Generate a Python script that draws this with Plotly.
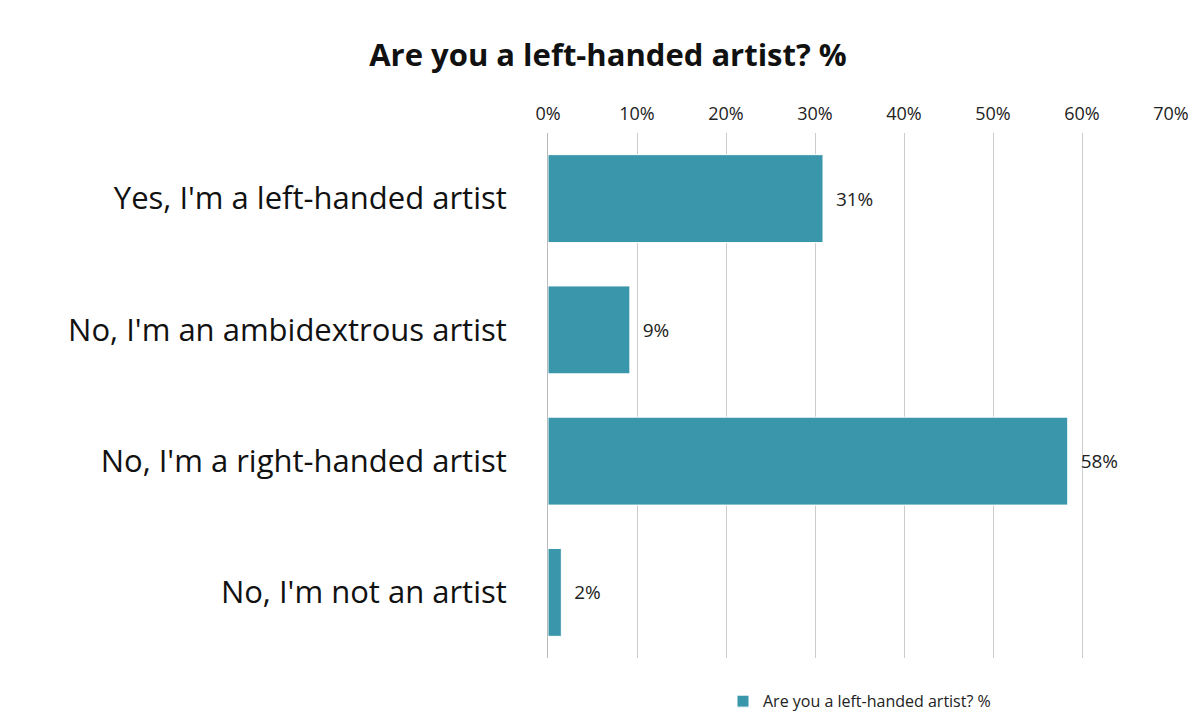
import plotly.graph_objects as go

categories = ["Yes, I'm a left-handed artist", "No, I'm an ambidextrous artist",
              "No, I'm a right-handed artist", "No, I'm not an artist"]
values = [30.9, 9.2, 58.4, 1.5]
labels = ["31%", "9%", "58%", "2%"]
series_name = "Are you a left-handed artist? %"
tick_vals = [0, 10, 20, 30, 40, 50, 60, 70]
tick_text = ["0%", "10%", "20%", "30%", "40%", "50%", "60%", "70%"]

fig = go.Figure(go.Bar(
    x=values, y=categories, orientation="h", name=series_name,
    marker=dict(color="#3a97ab", line=dict(color="#ffffff", width=1)),
    text=["  " + t for t in labels], textposition="outside", cliponaxis=False,
    textfont=dict(size=19, color="#222222"), showlegend=True,
))
fig.update_layout(
    width=1200, height=725, paper_bgcolor="white", plot_bgcolor="white",
    font=dict(family="Open Sans", color="#111111"),
    title=dict(text="<b>Are you a left-handed artist? %</b>", x=0.5, xanchor="center",
               y=0.935, yanchor="middle", font=dict(size=31, color="#111111")),
    margin=dict(l=540, r=37, t=125, b=75, autoexpand=False),
    bargap=0.33,
    legend=dict(orientation="h", x=0.5, xanchor="center", y=-0.05, yanchor="top",
                font=dict(size=16, color="#222222")),
    xaxis=dict(side="top", range=[0, 70], tickvals=tick_vals, ticktext=tick_text,
               showgrid=True, gridcolor="#cccccc", gridwidth=1, zeroline=False,
               tickfont=dict(size=18, color="#222222"), showline=False,
               automargin=False, ticklabelstandoff=8),
    yaxis=dict(categoryorder="array", categoryarray=categories[::-1],
               tickfont=dict(size=31, color="#111111"), showline=True,
               linecolor="#bbbbbb", ticks="", ticklabelstandoff=34,
               automargin=False),
)
fig.write_html("out.html")
